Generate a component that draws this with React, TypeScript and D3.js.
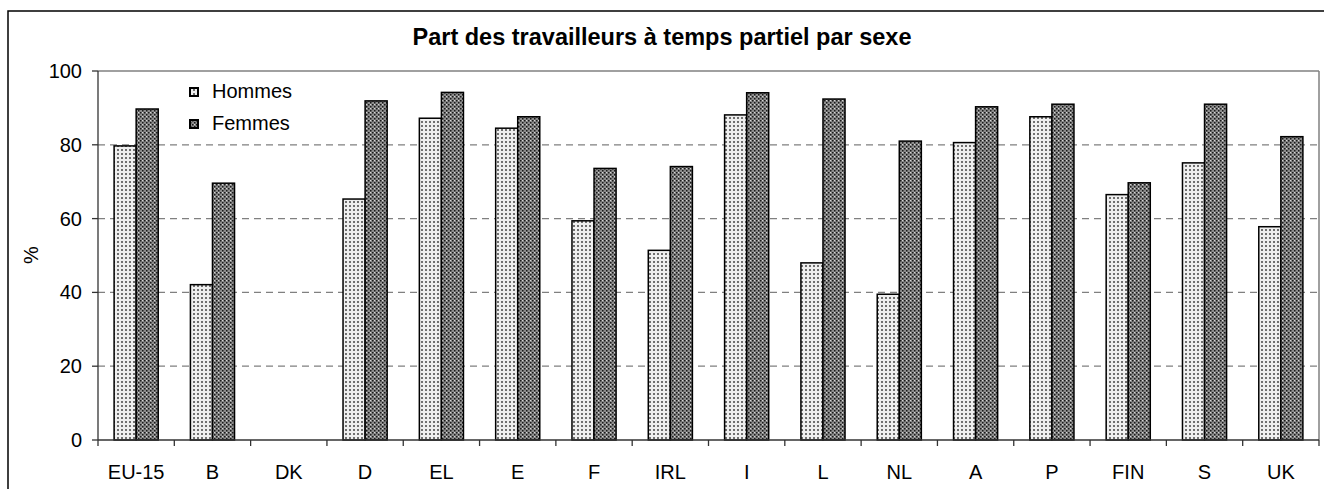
import React from "react";
import * as d3 from "d3";

const categories = ["EU-15", "B", "DK", "D", "EL", "E", "F", "IRL", "I", "L", "NL", "A", "P", "FIN", "S", "UK"];
const hommes: (number | null)[] = [79.7, 42.1, null, 65.3, 87.2, 84.5, 59.4, 51.4, 88.1, 48.0, 39.5, 80.6, 87.6, 66.5, 75.1, 57.8];
const femmes: (number | null)[] = [89.7, 69.6, null, 91.9, 94.2, 87.6, 73.6, 74.1, 94.1, 92.4, 81.0, 90.3, 91.0, 69.7, 91.0, 82.2];
const seriesNames = ["Hommes", "Femmes"];
const yTicks = [0, 20, 40, 60, 80, 100];
const title = "Part des travailleurs à temps partiel par sexe";

const W = 1324;
const H = 489;
const FONT = "'Liberation Sans', Arial, sans-serif";

export default function App() {
  const left = 98, right = 1319, top = 71, bottom = 440;
  const x0 = d3.scaleBand<string>().domain(categories).range([left, right]).padding(0);
  const x1 = d3.scaleBand<string>().domain(seriesNames).range([0, x0.bandwidth()]).paddingInner(0).paddingOuter(0.73);
  const y = d3.scaleLinear().domain([0, 100]).range([bottom, top]);
  const data = [hommes, femmes];
  const fills = ["url(#patH)", "url(#patF)"];

  return (
    <svg width={W} height={H} style={{ position: "absolute", left: 0, top: 0 }} xmlns="http://www.w3.org/2000/svg">
      <defs>
        <pattern id="patH" patternUnits="userSpaceOnUse" width={4} height={4}>
          <rect width={4} height={4} fill="#efefef" />
          <rect x={1} y={1} width={2} height={2} fill="#707070" />
        </pattern>
        <pattern id="patF" patternUnits="userSpaceOnUse" width={4} height={4}>
          <rect width={4} height={4} fill="#8c8c8c" />
          <rect x={0} y={0} width={1.5} height={1.5} fill="#1a1a1a" />
          <rect x={2} y={2} width={1.5} height={1.5} fill="#1a1a1a" />
          <rect x={2} y={0} width={1} height={1} fill="#d8d8d8" />
        </pattern>
      </defs>
      <rect x={0} y={0} width={W} height={H} fill="#fff" />
      {/* outer frame */}
      <rect x={8} y={11} width={W + 20} height={H + 20} fill="none" stroke="#000" strokeWidth={1.5} />

      {/* title */}
      <text x={662} y={45} textAnchor="middle" fontFamily={FONT} fontWeight="bold" fontSize={23.5} fill="#000">
        {title}
      </text>

      {/* gridlines */}
      {yTicks.filter((t) => t > 0 && t < 100).map((t) => (
        <line key={t} x1={left} x2={right} y1={y(t)} y2={y(t)} stroke="#808080" strokeWidth={1.3} strokeDasharray="7,5" />
      ))}
      {/* plot area top/right borders */}
      <line x1={left} x2={right} y1={y(100)} y2={y(100)} stroke="#808080" strokeWidth={1.5} />
      <line x1={right} x2={right} y1={y(100)} y2={bottom} stroke="#808080" strokeWidth={1.5} />

      {/* bars */}
      {categories.map((c, i) => (
        <g key={c}>
          {data.map((arr, s) => {
            const v = arr[i];
            if (v == null) return null;
            const xx = (x0(c) as number) + (x1(seriesNames[s]) as number);
            return (
              <rect key={s} x={xx} y={y(v)} width={x1.bandwidth()} height={y(0) - y(v)} fill={fills[s]} stroke="#000" strokeWidth={1.5} />
            );
          })}
        </g>
      ))}

      {/* y axis */}
      <line x1={left} x2={left} y1={y(100)} y2={bottom} stroke="#333" strokeWidth={1.3} />
      {yTicks.map((t) => (
        <g key={t}>
          <line x1={left - 6} x2={left} y1={y(t)} y2={y(t)} stroke="#333" strokeWidth={1.3} />
          <text x={82} y={y(t) + 7} textAnchor="end" fontFamily={FONT} fontSize={20} fill="#000">
            {t}
          </text>
        </g>
      ))}
      <text transform={`translate(38,255) rotate(-90)`} textAnchor="middle" fontFamily={FONT} fontSize={20} fill="#000">
        %
      </text>

      {/* x axis */}
      <line x1={left} x2={right} y1={bottom} y2={bottom} stroke="#333" strokeWidth={1.3} />
      {categories.map((c) => (
        <line key={c} x1={x0(c) as number} x2={x0(c) as number} y1={bottom} y2={bottom + 6} stroke="#333" strokeWidth={1.3} />
      ))}
      <line x1={right} x2={right} y1={bottom} y2={bottom + 6} stroke="#333" strokeWidth={1.3} />
      {categories.map((c) => (
        <text key={c} x={(x0(c) as number) + x0.bandwidth() / 2} y={479} textAnchor="middle" fontFamily={FONT} fontSize={20} fill="#000">
          {c}
        </text>
      ))}

      {/* legend */}
      {seriesNames.map((n, i) => (
        <g key={n}>
          <rect x={190} y={88 + i * 32} width={8} height={8} fill={fills[i]} stroke="#000" strokeWidth={2} />
          <text x={212} y={98 + i * 32} fontFamily={FONT} fontSize={20} fill="#000">
            {n}
          </text>
        </g>
      ))}
    </svg>
  );
}
